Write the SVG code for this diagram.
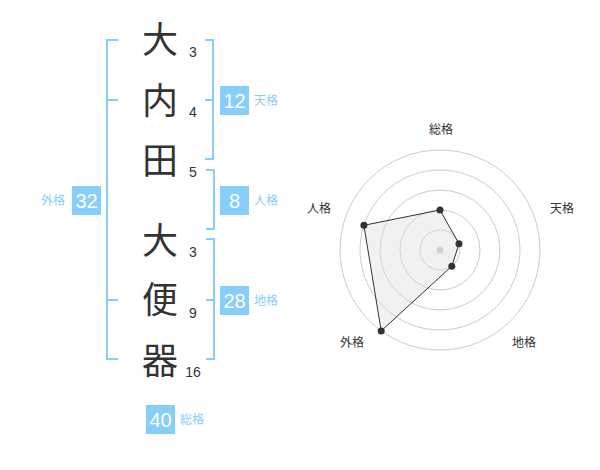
<svg xmlns="http://www.w3.org/2000/svg" width="600" height="470" viewBox="0 0 600 470">
<style>
.br{fill:none;stroke:#87CEFA;stroke-width:2}
.ch{font-family:"Noto Sans CJK JP",sans-serif;font-size:36px;fill:#333;text-anchor:middle}
.num{font-family:"Liberation Sans",Arial,sans-serif;font-size:14px;fill:#333;text-anchor:middle}
.box{fill:#87CEFA}
.bt{font-family:"Liberation Sans",Arial,sans-serif;font-size:20px;fill:#fff;text-anchor:middle}
.lb{font-family:"Noto Sans CJK JP",sans-serif;font-size:12px;fill:#87CEFA}
.ring{fill:none;stroke:#ccc;stroke-width:1}
.rl{font-family:"Noto Sans CJK JP",sans-serif;font-size:12px;fill:#333;text-anchor:middle}
.pt{fill:#333}
</style>
<rect width="600" height="470" fill="#fff"/>
<g id="connectors">
<path class="br" d="M118,40 H107 V359 H118 M107,100 H118 M107,300 H118"/>
<path class="br" d="M205,40 H213 V159 H205 M205,100 H213"/>
<path class="br" d="M206,170 H214 V229 H206"/>
<path class="br" d="M206,239 H214 V359 H206 M206,300 H214"/>
</g>
<g id="chars">
<text class="ch" x="160" y="53">大</text>
<text class="ch" x="160" y="114">内</text>
<text class="ch" x="160" y="174">田</text>
<text class="ch" x="160" y="254">大</text>
<text class="ch" x="160" y="313">便</text>
<text class="ch" x="160" y="374">器</text>
<text class="num" x="193" y="57">3</text>
<text class="num" x="193" y="117">4</text>
<text class="num" x="193" y="177">5</text>
<text class="num" x="193" y="257">3</text>
<text class="num" x="193" y="318">9</text>
<text class="num" x="193" y="377">16</text>
</g>
<g id="tenkaku">
<rect class="box" x="220" y="86" width="29" height="29"/>
<text class="bt" x="234.5" y="108">12</text>
<text class="lb" x="254" y="105">天格</text>
</g>
<g id="jinkaku">
<rect class="box" x="220" y="186" width="29" height="29"/>
<text class="bt" x="234.5" y="208">8</text>
<text class="lb" x="254" y="205">人格</text>
</g>
<g id="chikaku">
<rect class="box" x="220" y="286" width="29" height="29"/>
<text class="bt" x="234.5" y="308">28</text>
<text class="lb" x="254" y="305">地格</text>
</g>
<g id="gaikaku">
<rect class="box" x="72" y="186" width="29" height="29"/>
<text class="bt" x="86.5" y="208">32</text>
<text class="lb" x="41" y="205">外格</text>
</g>
<g id="soukaku">
<rect class="box" x="146" y="405" width="29" height="29"/>
<text class="bt" x="160.5" y="427">40</text>
<text class="lb" x="180" y="424">総格</text>
</g>
<g id="radar">
<circle class="ring" cx="440" cy="250" r="20"/>
<circle class="ring" cx="440" cy="250" r="40"/>
<circle class="ring" cx="440" cy="250" r="60"/>
<circle class="ring" cx="440" cy="250" r="80"/>
<circle class="ring" cx="440" cy="250" r="100"/>
<circle cx="440" cy="250" r="3.5" fill="#ccc"/>
<polygon points="440,210 459,243.8 451.8,266.2 381.2,330.9 363.9,225.3" fill="#ddd" fill-opacity="0.4" stroke="#333" stroke-width="1"/>
<circle class="pt" cx="440" cy="210" r="3.5"/>
<circle class="pt" cx="459" cy="243.8" r="3.5"/>
<circle class="pt" cx="451.8" cy="266.2" r="3.5"/>
<circle class="pt" cx="381.2" cy="330.9" r="3.5"/>
<circle class="pt" cx="363.9" cy="225.3" r="3.5"/>
<text class="rl" x="441" y="134">総格</text>
<text class="rl" x="562" y="213">天格</text>
<text class="rl" x="524" y="347">地格</text>
<text class="rl" x="352" y="347">外格</text>
<text class="rl" x="319" y="213">人格</text>
</g>
</svg>
